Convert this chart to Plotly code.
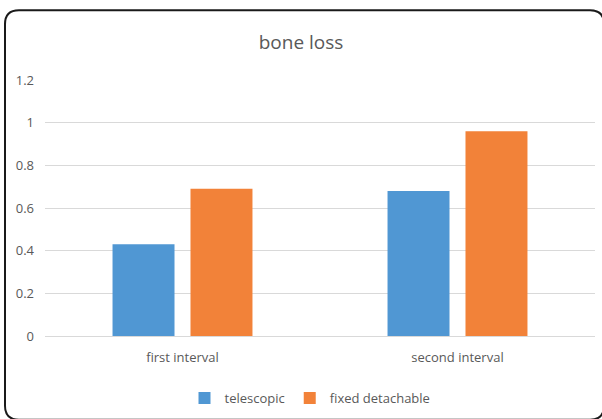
import plotly.graph_objects as go

categories = ["first interval", "second interval"]
telescopic = [0.43, 0.68]
fixed_detachable = [0.69, 0.96]
y_ticks = [0, 0.2, 0.4, 0.6, 0.8, 1, 1.2]
y_tick_labels = ["0", "0.2", "0.4", "0.6", "0.8", "1", "1.2"]

W, H = 602, 419
ML, MR, MT, MB = 45, 7, 80, 82
PW, PH = W - ML - MR, H - MT - MB

def px_to_paper(x, y):
    return (x - ML) / PW, (H - MB - y) / PH

def rounded_rect(x0, y0, x1, y1, r):
    def P(x, y):
        a, b = px_to_paper(x, y)
        return f"{a:.5f},{b:.5f}"
    d = f"M {P(x0 + r, y0)} L {P(x1 - r, y0)} Q {P(x1, y0)} {P(x1, y0 + r)} "
    d += f"L {P(x1, y1 - r)} Q {P(x1, y1)} {P(x1 - r, y1)} "
    d += f"L {P(x0 + r, y1)} Q {P(x0, y1)} {P(x0, y1 - r)} "
    d += f"L {P(x0, y0 + r)} Q {P(x0, y0)} {P(x0 + r, y0)} Z"
    return d

font_family = "Open Sans, Liberation Sans, sans-serif"

fig = go.Figure()
fig.add_trace(go.Bar(name="telescopic", x=categories, y=telescopic,
                     marker=dict(color="#5097D3", line=dict(width=0))))
fig.add_trace(go.Bar(name="fixed detachable", x=categories, y=fixed_detachable,
                     marker=dict(color="#F28239", line=dict(width=0))))

fig.update_layout(
    width=W, height=H,
    margin=dict(l=ML, r=MR, t=MT, b=MB),
    paper_bgcolor="white", plot_bgcolor="white",
    barmode="group", bargap=0.433, bargroupgap=0.205,
    title=dict(text="bone loss", x=0.5, xanchor="center", y=1 - 42 / H, yanchor="middle",
               font=dict(family=font_family, size=19, color="#595959")),
    font=dict(family=font_family, size=13, color="#595959"),
    xaxis=dict(showgrid=False, showline=True, linecolor="#D9D9D9", linewidth=1,
               ticks="", tickfont=dict(size=13, color="#595959"), ticklabelstandoff=9),
    yaxis=dict(range=[0, 1.2], tickvals=y_ticks, ticktext=y_tick_labels,
               showgrid=True, gridcolor="#D9D9D9", gridwidth=1, zeroline=False,
               showline=False, ticks="", tickfont=dict(size=13, color="#595959"),
               ticklabelstandoff=10),
    legend=dict(orientation="h", x=px_to_paper(310, 0)[0], xanchor="center",
                y=px_to_paper(0, 398)[1],
                yanchor="middle", font=dict(size=13, color="#595959"),
                itemwidth=30, traceorder="normal"),
    showlegend=True,
    shapes=[dict(type="path", xref="paper", yref="paper",
                 path=rounded_rect(5, 10, 604, 421, 14),
                 line=dict(color="#1a1a1a", width=2), fillcolor="rgba(0,0,0,0)", layer="above")],
)

fig.write_html("out.html", config={"displayModeBar": False},
               post_script="document.body.style.margin='0';document.body.style.overflow='hidden';")
